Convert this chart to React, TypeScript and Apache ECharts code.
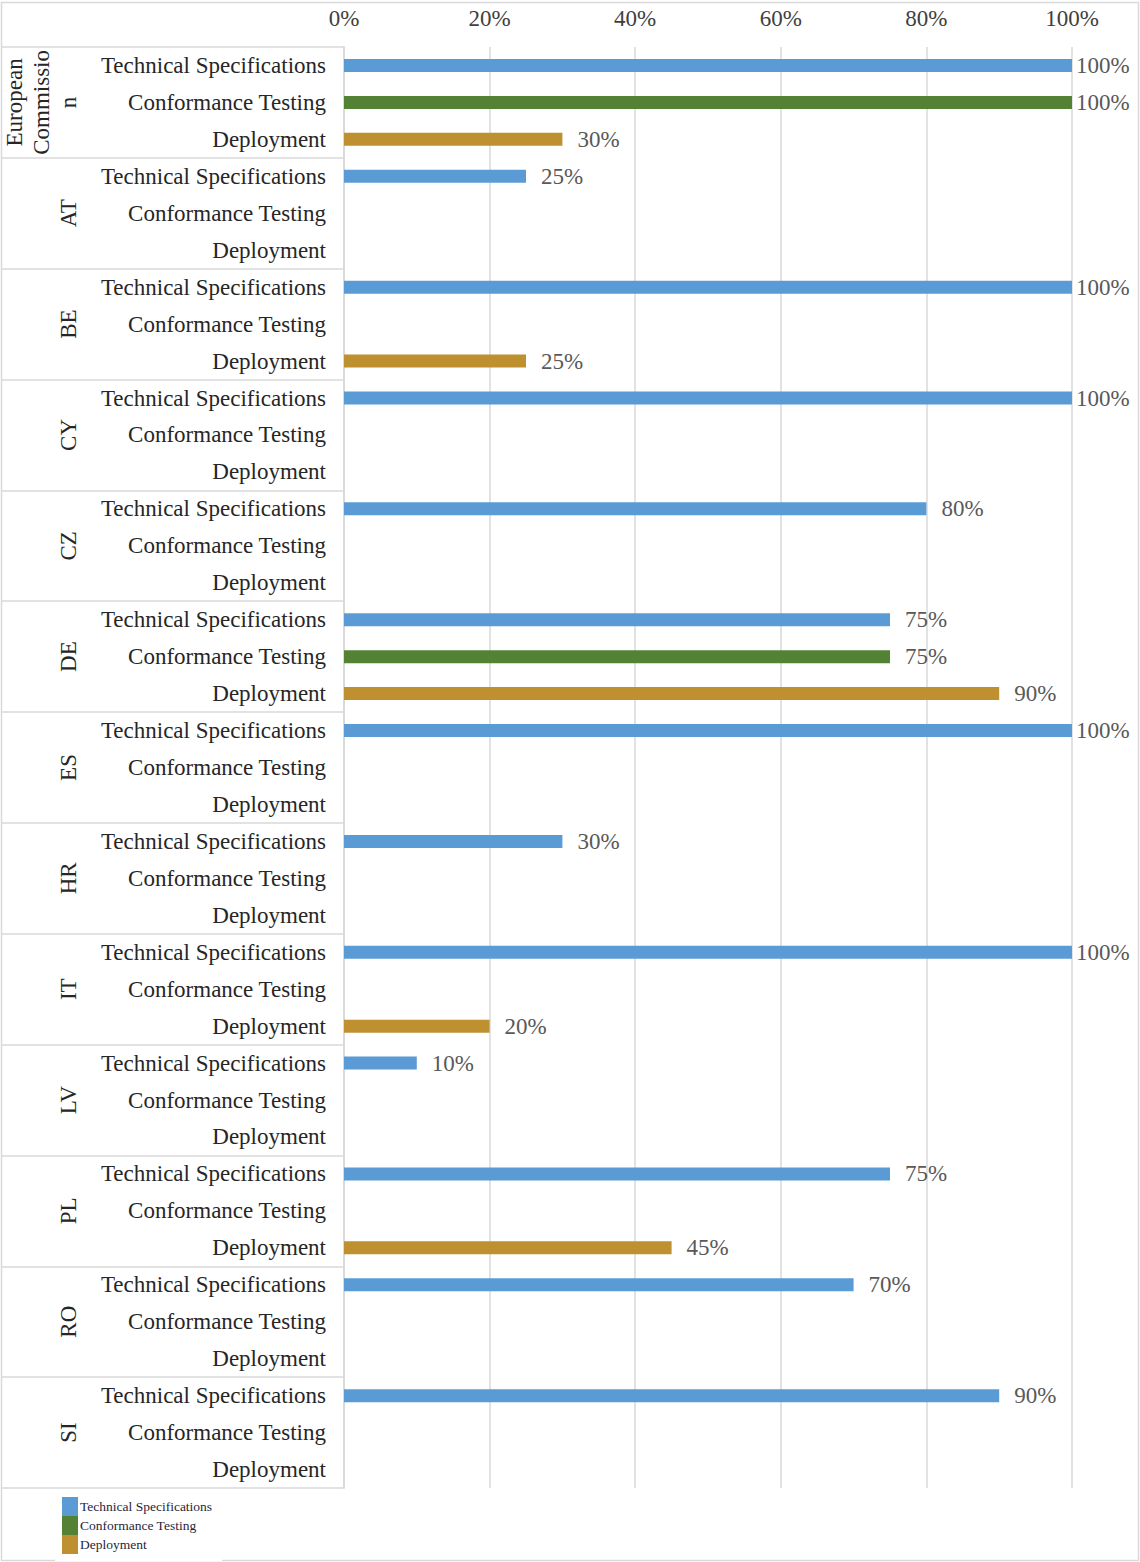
import React, { useEffect, useRef } from "react";
import * as echarts from "echarts";

const groups = ["European Commission", "AT", "BE", "CY", "CZ", "DE", "ES", "HR", "IT", "LV", "PL", "RO", "SI"];
const groupLabels = ["European\nCommissio\nn", "AT", "BE", "CY", "CZ", "DE", "ES", "HR", "IT", "LV", "PL", "RO", "SI"];
const rowTypes = ["Technical Specifications", "Conformance Testing", "Deployment"];
const technicalSpecifications = [100, 25, 100, 100, 80, 75, 100, 30, 100, 10, 75, 70, 90];
const conformanceTesting = [100, null, null, null, null, 75, null, null, null, null, null, null, null];
const deployment = [30, null, 25, null, null, 90, null, null, 20, null, 45, null, null];
const xTicks = [0, 20, 40, 60, 80, 100];

const FONT = "'Liberation Serif', 'Times New Roman', serif";
const colors = ["#5B9BD5", "#548235", "#BF9030"];

export default function App() {
  const ref = useRef<HTMLDivElement>(null);
  useEffect(() => {
    document.body.style.margin = "0";
    const chart = echarts.init(ref.current!, null, { renderer: "svg" });
    const categories: string[] = [];
    groups.forEach((g, gi) => rowTypes.forEach((t) => categories.push(gi + "|" + t)));
    const seriesValues = [technicalSpecifications, conformanceTesting, deployment];
    const series = rowTypes.map((name, si) => {
      const data: any[] = [];
      groups.forEach((_, gi) => {
        rowTypes.forEach((__, ti) => {
          if (ti !== si) {
            data.push("-");
            return;
          }
          const v = seriesValues[si][gi];
          if (v === null || v === undefined) data.push("-");
          else if (v >= 100) data.push({ value: v, label: { distance: 4 } });
          else data.push(v);
        });
      });
      return {
        name,
        type: "bar",
        stack: "row",
        barWidth: 13,
        data,
        itemStyle: { color: colors[si] },
        label: {
          show: true,
          position: "right",
          distance: 15,
          formatter: "{c}%",
          fontFamily: FONT,
          fontSize: 23,
          color: "#595959",
        },
      };
    });
    chart.setOption({
      animation: false,
      backgroundColor: "#fff",
      color: colors,
      grid: { left: 344, right: 68, top: 47, bottom: 74, containLabel: false },
      xAxis: {
        type: "value",
        position: "top",
        min: xTicks[0],
        max: xTicks[xTicks.length - 1],
        interval: 20,
        axisLine: { show: false },
        axisTick: { show: false },
        splitLine: { show: true, lineStyle: { color: "#d9d9d9", width: 1.5 } },
        axisLabel: { formatter: "{value}%", fontFamily: FONT, fontSize: 23, color: "#404040", margin: 17 },
      },
      yAxis: [
        {
          type: "category",
          inverse: true,
          data: categories,
          position: "left",
          axisLine: { show: true, lineStyle: { color: "#d9d9d9", width: 1.5 } },
          axisTick: { show: false },
          axisLabel: {
            interval: 0,
            margin: 18,
            fontFamily: FONT,
            fontSize: 23,
            color: "#262626",
            formatter: (v: string) => v.split("|")[1],
          },
        },
        {
          type: "category",
          inverse: true,
          data: groupLabels,
          position: "left",
          offset: 0,
          axisLine: { show: true, lineStyle: { color: "#d9d9d9", width: 1.5 } },
          axisTick: { show: true, length: 342, interval: 0, lineStyle: { color: "#d9d9d9", width: 1.5 } },
          axisLabel: {
            interval: 0,
            rotate: 90,
            margin: 262,
            align: "center",
            verticalAlign: "bottom",
            lineHeight: 27,
            fontFamily: FONT,
            fontSize: 23,
            color: "#262626",
          },
        },
      ],
      legend: {
        orient: "vertical",
        left: 55,
        top: 1489,
        padding: [8, 10, 7, 7],
        itemGap: 0,
        itemWidth: 16,
        itemHeight: 19,
        backgroundColor: "#fff",
        z: 10,
        icon: "rect",
        textStyle: { fontFamily: FONT, fontSize: 13.5, color: "#1f1f3a", padding: [0, 0, 0, -3] },
        data: rowTypes,
      },
      graphic: [
        {
          type: "rect",
          z: -1,
          shape: { x: 1.5, y: 2.5, width: 1137, height: 1558 },
          style: { fill: "none", stroke: "#d9d9d9", lineWidth: 1.5 },
        },
      ],
      series,
    });
    return () => chart.dispose();
  }, []);
  return <div ref={ref} style={{ width: 1140, height: 1562 }} />;
}
